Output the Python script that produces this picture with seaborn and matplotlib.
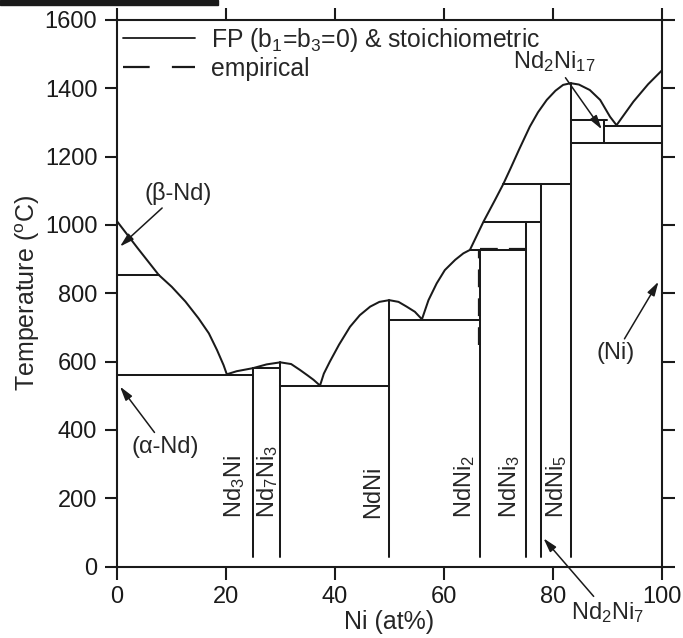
import numpy as np
import pandas as pd
import matplotlib
matplotlib.use('Agg')
import matplotlib.pyplot as plt
import seaborn as sns
from matplotlib.lines import Line2D
from matplotlib.patches import Rectangle

# liquidus (Ni at%, temperature in degC)
liq_x = [0, 3.8, 7.7, 10.1, 12.6, 15.0, 16.9, 18.4, 19.6, 20.2, 22.0, 25.0, 27.5,
         30.0, 32.0, 33.6, 35.0, 36.1, 37.3, 38.0, 39.1, 40.8, 42.8, 44.6, 46.5,
         48.2, 50.0, 51.7, 53.2, 54.7, 56.0, 57.2, 58.7, 60.2, 62.1, 63.6, 64.8,
         67.3, 69.4, 70.9, 72.3, 73.8, 75.8, 77.3, 78.9, 80.5, 81.9, 83.3, 84.8,
         86.8, 88.7, 90.5, 91.7, 94.8, 97.5, 100]
liq_T = [1012, 933, 854, 819, 776, 727, 683, 634, 590, 563, 572, 581, 592,
         598, 593, 576, 560, 547, 530, 565, 600, 650, 702, 736, 761,
         775, 780, 775, 761, 746, 724, 780, 829, 868, 898, 917, 927,
         1010, 1073, 1119, 1167, 1220, 1288, 1330, 1366, 1393, 1410, 1415, 1411,
         1395, 1366, 1317, 1292, 1361, 1412, 1452]

# invariant (horizontal) lines
inv_T = [855, 562, 581, 530, 722, 926, 1010, 1119, 1307, 1290, 1239]
inv_x0 = [0, 0, 25, 30, 50, 64.8, 67.3, 70.9, 83.33, 89.47, 83.33]
inv_x1 = [7.7, 25, 30, 50, 66.67, 75, 77.78, 83.33, 90.0, 100, 100]

# compounds (vertical lines)
comp_x = [25, 30, 50, 66.67, 75, 77.78, 83.33, 89.47]
comp_Tlo = [29, 29, 29, 29, 29, 29, 29, 1239]
comp_Thi = [581, 598, 780, 926, 1010, 1119, 1415, 1307]

# compound labels (rotated, near the bottom)
lab_names = [r'Nd$_3$Ni', r'Nd$_7$Ni$_3$', 'NdNi', r'NdNi$_2$', r'NdNi$_3$', r'NdNi$_5$']
lab_x = [21.6, 27.6, 47.1, 63.9, 72.1, 80.7]

# empirical lines that differ from the FP ones
emp_x = [[66.45, 66.45], [66.67, 75.0]]
emp_T = [[650, 930], [930, 930]]

rows = []
rows += [('liq', x, t) for x, t in zip(liq_x, liq_T)]
for i, (t, a, b) in enumerate(zip(inv_T, inv_x0, inv_x1)):
    rows += [('h%d' % i, a, t), ('h%d' % i, b, t)]
for i, (x, lo, hi) in enumerate(zip(comp_x, comp_Tlo, comp_Thi)):
    rows += [('v%d' % i, x, lo), ('v%d' % i, x, hi)]
df = pd.DataFrame(rows, columns=['seg', 'x', 'T'])

erows = []
for i, (xs, ts) in enumerate(zip(emp_x, emp_T)):
    erows += [('e%d' % i, x, t) for x, t in zip(xs, ts)]
edf = pd.DataFrame(erows, columns=['seg', 'x', 'T'])

sns.set_theme(style='ticks')
plt.rcParams['font.family'] = ['Liberation Sans', 'DejaVu Sans']
plt.rcParams['mathtext.fontset'] = 'custom'
plt.rcParams['mathtext.rm'] = 'Liberation Sans'
plt.rcParams['mathtext.it'] = 'Liberation Sans:italic'
plt.rcParams['mathtext.bf'] = 'Liberation Sans:bold'

fig = plt.figure(figsize=(6.83, 6.38), dpi=100)
ax = fig.add_axes([0.1709, 0.1118, 0.798, 0.8569])

sns.lineplot(data=df, x='x', y='T', units='seg', estimator=None, sort=False,
             color='k', lw=1.45, ax=ax)
sns.lineplot(data=edf, x='x', y='T', units='seg', estimator=None, sort=False,
             color='k', lw=1.6, linestyle=(0, (8, 5)), ax=ax)

ax.set_xlim(0, 100)
ax.set_ylim(0, 1600)
ax.set_xticks(np.arange(0, 101, 20))
ax.set_yticks(np.arange(0, 1601, 200))
ax.tick_params(direction='out', length=9, width=1.5, top=True, right=True,
               labelsize=17, pad=5, colors='k')
for s in ax.spines.values():
    s.set_linewidth(1.5)
    s.set_color('k')
ax.set_xlabel('Ni (at%)', fontsize=18, labelpad=1)
ax.set_ylabel(r'Temperature ($^{\mathrm{o}}$C)', fontsize=18, labelpad=2)

for name, x in zip(lab_names, lab_x):
    ax.text(x, 142, name, rotation=90, ha='center', va='bottom', fontsize=17)

arw = dict(arrowstyle='-|>,head_length=0.7,head_width=0.2', color='k', lw=1.1,
           mutation_scale=12, shrinkA=0, shrinkB=0)
ax.annotate('(β-Nd)', xy=(0.6, 937), xytext=(11.3, 1093), fontsize=17,
            ha='center', va='center', arrowprops=arw)
ax.annotate('(α-Nd)', xy=(0.6, 527), xytext=(8.9, 351), fontsize=17,
            ha='center', va='center', arrowprops=arw)
ax.annotate('(Ni)', xy=(99.4, 834), xytext=(91.6, 625), fontsize=17,
            ha='center', va='center', arrowprops=arw)
ax.annotate(r'Nd$_2$Ni$_{17}$', xy=(89.0, 1280), xytext=(80.3, 1477), fontsize=17,
            ha='center', va='center', arrowprops=arw)
ax.annotate(r'Nd$_2$Ni$_7$', xy=(78.3, 83), xytext=(90.0, -133), fontsize=17,
            ha='center', va='center', arrowprops=arw, annotation_clip=False)

handles = [Line2D([], [], color='k', lw=1.3),
           Line2D([], [], color='k', lw=1.6, linestyle=(0, (12, 10)))]
ax.legend(handles, [r'FP (b$_1$=b$_3$=0) & stoichiometric', 'empirical'],
          loc='upper left', bbox_to_anchor=(0.0, 1.0), frameon=False,
          fontsize=17.8, handlelength=2.9, handletextpad=0.65,
          labelspacing=0.1, borderaxespad=0.1, borderpad=0.15)

# cut-off caption bar above the plot
fig.add_artist(Rectangle((0, 1 - 4.5 / 638), 218 / 683, 4.5 / 638,
                         transform=fig.transFigure, color='k'))

fig.savefig('out.png', dpi=100)
